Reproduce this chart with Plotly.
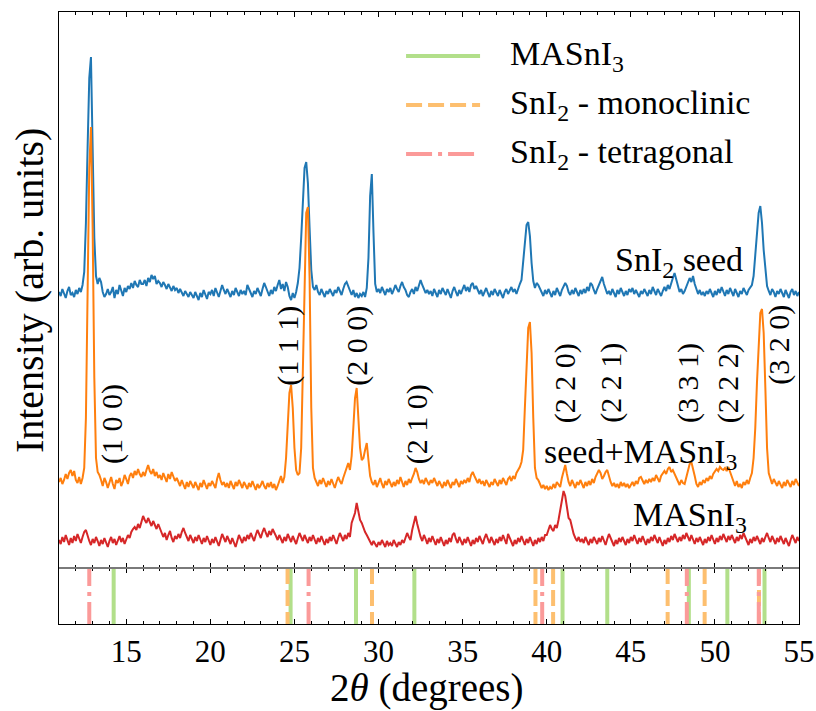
import numpy as np
import plotly.graph_objects as go

# 2-theta grid of the diffractograms (degrees, 0.1 step)
two_theta = np.round(np.arange(110, 551) / 10, 1)

# Offset diffractograms (arb. units), one row per degree
snI2_seed = [
    276, 272, 279, 274, 270, 277, 281, 273, 275, 271,
    278, 274, 280, 276, 283, 296, 345, 420, 490, 511,
    430, 330, 292, 284, 290, 286, 276, 271, 274, 279,
    273, 276, 281, 270, 278, 274, 283, 277, 272, 280,
    276, 282, 279, 285, 280, 287, 283, 281, 288, 284,
    284, 288, 282, 290, 286, 293, 289, 292, 284, 287,
    285, 281, 286, 283, 279, 284, 280, 277, 282, 278,
    280, 275, 279, 276, 272, 277, 274, 271, 276, 273,
    270, 276, 272, 268, 275, 271, 278, 273, 269, 276,
    274, 278, 272, 280, 276, 271, 277, 283, 278, 274,
    279, 275, 271, 277, 273, 280, 276, 272, 278, 274,
    277, 273, 283, 279, 275, 271, 277, 274, 280, 276,
    272, 279, 285, 281, 276, 272, 278, 274, 281, 277,
    283, 288, 279, 284, 277, 286, 281, 272, 268, 275,
    270, 276, 285, 300, 330, 372, 400, 406, 385, 340,
    298, 281, 278, 283, 276, 273, 279, 275, 271, 277,
    274, 279, 276, 272, 278, 275, 281, 277, 273, 279,
    284, 286, 281, 276, 273, 278, 271, 275, 270, 274,
    272, 276, 271, 280, 310, 372, 394, 335, 284, 276,
    279, 275, 281, 277, 273, 279, 276, 280, 274, 278,
    283, 279, 276, 282, 286, 281, 278, 273, 271, 276,
    279, 274, 281, 277, 284, 288, 283, 279, 275, 278,
    274, 277, 272, 279, 275, 271, 278, 274, 280, 276,
    273, 279, 275, 270, 277, 281, 276, 272, 278, 274,
    279, 283, 277, 281, 276, 283, 285, 279, 282, 277,
    274, 278, 272, 276, 280, 275, 271, 277, 273, 279,
    275, 272, 278, 274, 270, 276, 279, 274, 278, 281,
    276, 279, 274, 280, 284, 288, 305, 328, 343, 346,
    332, 305, 287, 280, 285, 283, 279, 276, 272, 278,
    274, 279, 275, 271, 277, 273, 280, 276, 272, 278,
    281, 285, 282, 276, 273, 278, 274, 280, 276, 272,
    278, 274, 279, 275, 281, 277, 285, 283, 278, 274,
    279, 283, 288, 291, 284, 278, 274, 277, 273, 279,
    275, 271, 278, 274, 280, 276, 272, 277, 273, 279,
    276, 280, 274, 278, 275, 271, 277, 274, 279, 275,
    272, 278, 274, 281, 276, 273, 279, 275, 272, 277,
    281, 277, 283, 279, 286, 290, 295, 288, 280, 276,
    279, 274, 277, 281, 285, 290, 286, 292, 284, 278,
    274, 278, 273, 276, 272, 277, 274, 279, 275, 271,
    277, 273, 279, 275, 281, 276, 272, 278, 274, 280,
    276, 272, 279, 275, 271, 277, 274, 280, 276, 273,
    278, 281, 283, 292, 312, 338, 355, 362, 345, 318,
    295, 282, 277, 273, 279, 276, 271, 277, 274, 279,
    275, 271, 278, 274, 270, 276, 279, 273, 277, 272,
    276,
]

seed_masni3 = [
    86, 90, 84, 88, 94, 89, 95, 98, 92, 97,
    88, 85, 91, 84, 90, 100, 150, 270, 400, 441,
    340, 190, 110, 96, 93, 88, 82, 90, 86, 80,
    87, 91, 84, 79, 88, 85, 90, 82, 86, 93,
    89, 84, 92, 95, 90, 97, 93, 99, 94, 91,
    96, 92, 98, 103, 97, 94, 99, 92, 96, 90,
    93, 88, 95, 91, 86, 94, 89, 96, 92, 87,
    90, 85, 82, 88, 84, 79, 86, 81, 87, 83,
    80, 86, 82, 78, 85, 81, 88, 83, 79, 85,
    82, 87, 84, 80, 89, 95, 88, 83, 86, 81,
    85, 80, 87, 83, 79, 86, 82, 88, 84, 80,
    86, 82, 79, 85, 81, 87, 83, 78, 84, 80,
    83, 87, 82, 79, 85, 81, 86, 80, 84, 78,
    82, 88, 92, 85, 91, 110, 145, 175, 183, 160,
    120, 98, 93, 95, 120, 200, 310, 355, 361, 290,
    160, 100, 90, 86, 82, 88, 84, 90, 85, 81,
    87, 83, 89, 85, 80, 86, 91, 87, 84, 90,
    95, 102, 105, 98, 112, 140, 170, 180, 155, 120,
    108, 110, 118, 125, 108, 92, 86, 83, 88, 81,
    85, 90, 84, 80, 87, 83, 89, 85, 81, 86,
    82, 88, 84, 91, 86, 81, 87, 83, 89, 85,
    90, 94, 100, 96, 89, 85, 88, 84, 90, 86,
    83, 88, 85, 90, 86, 82, 87, 84, 80, 86,
    82, 88, 84, 80, 86, 83, 89, 85, 81, 87,
    84, 88, 85, 90, 86, 93, 96, 92, 88, 85,
    89, 84, 87, 82, 88, 85, 81, 86, 83, 89,
    85, 82, 88, 84, 90, 86, 83, 89, 91, 87,
    92, 89, 95, 98, 101, 106, 118, 160, 210, 240,
    246, 215, 150, 100, 90, 88, 84, 80, 83, 79,
    82, 78, 81, 79, 84, 80, 86, 83, 81, 90,
    96, 103, 94, 86, 82, 88, 84, 80, 86, 83,
    88, 84, 80, 86, 82, 87, 83, 89, 85, 91,
    94, 98, 95, 89, 92, 96, 98, 91, 86, 82,
    85, 81, 84, 80, 86, 82, 85, 81, 84, 80,
    83, 86, 82, 87, 84, 90, 91, 87, 84, 88,
    85, 89, 86, 90, 87, 93, 89, 86, 92, 95,
    97, 94, 99, 101, 96, 98, 94, 90, 86, 83,
    88, 85, 84, 90, 98, 104, 106, 100, 92, 84,
    81, 86, 83, 88, 85, 90, 87, 92, 89, 94,
    96, 99, 97, 101, 99, 98, 100, 97, 101, 96,
    90, 85, 82, 87, 81, 84, 80, 86, 83, 88,
    84, 90, 95, 110, 140, 185, 230, 255, 259, 235,
    180, 120, 95, 88, 84, 89, 85, 82, 87, 83,
    80, 86, 82, 88, 84, 81, 87, 83, 89, 85,
    82,
]

masni3 = [
    28, 24, 31, 26, 33, 27, 23, 30, 25, 32,
    27, 34, 29, 25, 31, 36, 38, 32, 27, 23,
    29, 25, 31, 27, 22, 28, 24, 30, 26, 21,
    27, 31, 25, 29, 23, 28, 32, 26, 30, 24,
    28, 33, 30, 36, 39, 41, 38, 44, 40, 47,
    52, 48, 45, 50, 46, 42, 47, 43, 39, 44,
    40, 36, 31, 35, 28, 33, 37, 30, 26, 32,
    29, 34, 30, 36, 40, 35, 31, 27, 33, 29,
    25, 31, 27, 33, 29, 24, 30, 26, 32, 28,
    23, 29, 25, 31, 27, 22, 28, 34, 30, 26,
    32, 28, 24, 30, 26, 21, 27, 33, 29, 25,
    31, 27, 33, 29, 35, 31, 27, 33, 38, 34,
    30, 36, 40, 35, 31, 37, 33, 39, 36, 32,
    28, 33, 29, 25, 31, 27, 34, 30, 26, 32,
    28, 24, 30, 35, 31, 27, 33, 29, 25, 31,
    27, 33, 29, 24, 30, 26, 32, 28, 23, 29,
    25, 31, 27, 33, 29, 24, 30, 35, 31, 27,
    33, 29, 35, 31, 45, 50, 55, 65, 58, 48,
    45, 40, 36, 33, 30, 26, 23, 27, 24, 21,
    26, 23, 28, 24, 21, 27, 23, 25, 22, 28,
    24, 21, 26, 23, 28, 25, 30, 35, 31, 28,
    38, 45, 52, 44, 36, 31, 27, 33, 29, 24,
    30, 26, 32, 28, 23, 29, 25, 31, 27, 22,
    28, 24, 30, 26, 33, 35, 29, 25, 31, 27,
    23, 29, 25, 31, 27, 22, 28, 24, 30, 26,
    32, 28, 24, 30, 34, 29, 25, 31, 27, 23,
    29, 25, 31, 27, 33, 29, 24, 34, 30, 26,
    22, 28, 24, 30, 26, 32, 28, 23, 29, 25,
    31, 27, 22, 28, 24, 30, 26, 31, 27, 33,
    33, 38, 43, 39, 37, 43, 40, 48, 58, 70,
    77, 72, 58, 50, 48, 40, 34, 30, 27, 31,
    26, 29, 25, 31, 27, 23, 29, 25, 31, 27,
    24, 30, 26, 32, 28, 23, 29, 34, 30, 26,
    22, 28, 24, 30, 26, 31, 27, 23, 29, 25,
    31, 27, 33, 29, 24, 30, 26, 32, 28, 23,
    29, 25, 31, 27, 33, 29, 25, 31, 27, 22,
    28, 24, 30, 26, 32, 28, 34, 30, 26, 31,
    27, 33, 29, 35, 31, 27, 33, 29, 24, 30,
    26, 31, 27, 23, 29, 25, 31, 27, 33, 29,
    24, 30, 26, 32, 28, 34, 30, 26, 32, 28,
    33, 29, 25, 31, 27, 33, 29, 35, 31, 27,
    23, 29, 25, 31, 27, 32, 28, 24, 30, 26,
    31, 35, 30, 26, 32, 28, 24, 30, 26, 32,
    28, 24, 30, 26, 22, 28, 33, 29, 25, 31,
    27,
]

# Reference reflection positions (degrees)
ref_masni3 = [14.25, 24.77, 28.66, 32.13, 40.94, 43.60, 48.45, 50.74, 52.95]
ref_mono = [24.59, 29.61, 39.33, 40.38, 47.19, 49.39, 52.62]
ref_tetra = [12.80, 25.84, 39.73, 48.33, 52.61]

# Miller indices of the MASnI3 reflections
hkl_labels = ["(1 0 0)", "(1 1 1)", "(2 0 0)", "(2 1 0)", "(2 2 0)",
              "(2 2 1)", "(3 3 1)", "(2 2 2)", "(3 2 0)"]
hkl_x = [14.15, 24.6, 28.7, 32.3, 41.1, 43.8, 48.4, 50.8, 53.8]
hkl_y = [144, 222, 222, 144, 185, 185, 185, 185, 223]

sample_names = ["SnI<sub>2</sub> seed", "seed+MASnI<sub>3</sub>", "MASnI<sub>3</sub>"]
sample_x = [47.85, 45.6, 48.5]
sample_y = [306, 114, 51]

ref_names = ["MASnI<sub>3</sub>", "SnI<sub>2</sub> - monoclinic", "SnI<sub>2</sub> - tetragonal"]

FONT = "Liberation Serif"
BLUE, ORANGE, RED = "#1f77b4", "#ff7f0e", "#d62728"
REF_GREEN, REF_ORANGE, REF_RED = "#b2df8a", "#fdbf6f", "#fb9a99"
DASH_MONO = "16px,6px"
DASH_TETRA = "26px,6px,4px,6px"

SPLIT = 56 / 612  # height share of the reference-line panel

fig = go.Figure()

for ys, col in [(snI2_seed, BLUE), (seed_masni3, ORANGE), (masni3, RED)]:
    fig.add_trace(go.Scatter(x=two_theta, y=ys, mode="lines", xaxis="x2", yaxis="y2",
                             line=dict(color=col, width=2), showlegend=False,
                             hoverinfo="skip"))


def sticks(pos):
    xs, ys = [], []
    for p in pos:
        xs += [p, p, None]
        ys += [-0.07, 1.05, None]
    return xs, ys


for pos, col, dash in [(ref_masni3, REF_GREEN, "solid"),
                       (ref_mono, REF_ORANGE, DASH_MONO),
                       (ref_tetra, REF_RED, DASH_TETRA)]:
    xs, ys = sticks(pos)
    fig.add_trace(go.Scatter(x=xs, y=ys, mode="lines", xaxis="x", yaxis="y",
                             line=dict(color=col, width=4, dash=dash),
                             connectgaps=False, showlegend=False, hoverinfo="skip"))

xcommon = dict(range=[11, 55], tick0=0, dtick=5, ticks="inside", ticklen=5,
               tickwidth=1, tickcolor="black", showline=True, linecolor="black",
               linewidth=1, mirror="ticks", showgrid=False, zeroline=False,
               automargin=False,
               minor=dict(dtick=1, ticks="inside", ticklen=3, tickwidth=1,
                          tickcolor="black", showgrid=False))
ycommon = dict(showticklabels=False, ticks="", showline=True, linecolor="black",
               linewidth=1, mirror=True, showgrid=False, zeroline=False,
               automargin=False)

fig.update_layout(
    width=816, height=711,
    margin=dict(l=59, r=17, t=12, b=87),
    paper_bgcolor="white", plot_bgcolor="white",
    font=dict(family=FONT, color="black"),
    xaxis=dict(domain=[0, 1], anchor="y", showticklabels=True,
               tickfont=dict(size=31, family=FONT), **xcommon),
    xaxis2=dict(domain=[0, 1], anchor="y2", matches="x", showticklabels=False, **xcommon),
    yaxis=dict(domain=[0, SPLIT], range=[0, 1], **ycommon),
    yaxis2=dict(domain=[SPLIT, 1], range=[0, 556], **ycommon),
)

annotations = []
for t, x, y in zip(hkl_labels, hkl_x, hkl_y):
    annotations.append(dict(text=t, x=x, y=y, xref="x2", yref="y2", textangle=-90,
                            showarrow=False, xanchor="center", yanchor="middle",
                            font=dict(size=30, family=FONT)))
for t, x, y in zip(sample_names, sample_x, sample_y):
    annotations.append(dict(text=t, x=x, y=y, xref="x2", yref="y2", showarrow=False,
                            xanchor="center", yanchor="middle",
                            font=dict(size=34, family=FONT)))

# axis titles
annotations.append(dict(text="2<i>θ</i> (degrees)", x=0.497, y=-0.1046, xref="paper",
                        yref="paper", showarrow=False, xanchor="center", yanchor="middle",
                        font=dict(size=39, family=FONT)))
annotations.append(dict(text="Intensity (arb. units)", x=-0.039, y=0.5458, xref="paper",
                        yref="paper", showarrow=False, xanchor="center", yanchor="middle",
                        textangle=-90, font=dict(size=40, family=FONT)))

# legend for the reference reflections
leg_y = [0.928, 0.848, 0.768]
leg_style = [(REF_GREEN, "solid"), (REF_ORANGE, DASH_MONO), (REF_RED, DASH_TETRA)]
shapes = []
for name, ly, (col, dash) in zip(ref_names, leg_y, leg_style):
    shapes.append(dict(type="line", xref="paper", yref="paper", x0=0.469, x1=0.569,
                       y0=ly, y1=ly, line=dict(color=col, width=4, dash=dash)))
    annotations.append(dict(text=name, x=0.607, y=ly, xref="paper", yref="paper",
                            showarrow=False, xanchor="left", yanchor="middle",
                            font=dict(size=34, family=FONT)))

# divider between the two panels
shapes.append(dict(type="line", xref="paper", yref="paper", x0=0, x1=1, y0=SPLIT,
                   y1=SPLIT, layer="above", line=dict(color="#7a7a7a", width=2)))

fig.update_layout(annotations=annotations, shapes=shapes)

fig.write_html("out.html")
